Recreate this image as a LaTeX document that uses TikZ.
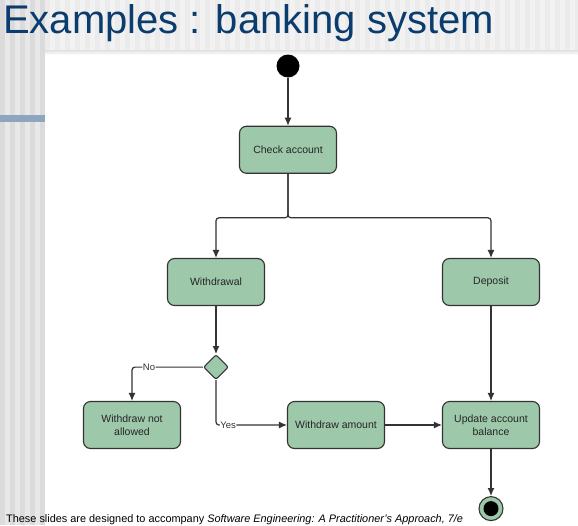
\documentclass[tikz,border=0pt]{standalone}
\usepackage{fontspec}
\setmainfont{Liberation Sans}
\usetikzlibrary{positioning,shapes.geometric,arrows.meta}
\definecolor{actgreen}{HTML}{9DC8AA}
\definecolor{linegray}{HTML}{333333}
\definecolor{titleblue}{HTML}{0B3C6E}
\definecolor{barblue}{HTML}{8DA5BE}
\begin{document}
\begin{tikzpicture}[
    x=1pt, y=1pt,
    act/.style={draw=linegray, line width=1.1pt, fill=actgreen, rounded corners=7pt,
        minimum width=97pt, minimum height=47pt, align=center, text=black!85,
        font=\fontsize{10.5}{12.5}\selectfont},
    decision/.style={diamond, draw=linegray, line width=1.1pt, fill=actgreen,
        rounded corners=2pt, minimum width=25pt, minimum height=25pt, inner sep=0pt},
    initial/.style={circle, fill=black, minimum size=23pt, inner sep=0pt},
    final/.style={circle, draw=linegray, line width=1.1pt, fill=actgreen,
        minimum size=24pt, inner sep=0pt,
        path picture={\fill[black] (path picture bounding box.center) circle (7.5pt);}},
    flow/.style={draw=linegray, line width=1.2pt, -{Latex[length=8pt,width=7pt]}},
    guard/.style={fill=white, inner sep=0.5pt, font=\fontsize{9.5}{10}\selectfont, text=linegray}]

    % slide background
    \useasboundingbox (0,0) rectangle (578,-525);
    \fill[white] (0,0) rectangle (578,-525);
    \fill[black!8] (45,0) rectangle (578,-50);
    \foreach \x in {50,60,...,570}
        \fill[black!5] (\x,0) rectangle ++(5,-50);
    \shade[top color=black!12, bottom color=white] (45,-50) rectangle (578,-55);
    \fill[black!9] (0,0) rectangle (45,-525);
    \foreach \x in {0,10,...,40}
        \fill[black!14] (\x,0) rectangle ++(5,-525);
    \fill[barblue] (0,-115) rectangle (45,-122);
    \node[anchor=base west, text=titleblue, font=\fontsize{40}{48}\selectfont,
        inner sep=0pt] (title) at (3,-33) {Examples : banking system};
    \node[anchor=base west, inner sep=0pt, font=\fontsize{10.9}{12}\selectfont]
        (footer) at (6,-522.3)
        {These slides are designed to accompany \textit{Software Engineering: A Practitioner's Approach, 7/e}};

    % activities
    \node[initial] (start) at (288,-66) {};
    \node[act, below=48pt of start] (check) {Check account};
    \node[act] (withdrawal) at (216,-282) {Withdrawal};
    \node[act] (deposit) at (491,-282) {Deposit};
    \node[decision, below=48pt of withdrawal] (choice) {};
    \node[act] (notallowed) at (132,-425) {Withdraw not\\allowed};
    \node[act] (amount) at (336,-425) {Withdraw amount};
    \node[act] (update) at (491,-425) {Update account\\balance};
    \node[final, below=47pt of update] (stop) {};

    % flows
    \draw[flow] (start) -- (check);
    \draw[flow, rounded corners=3pt] (check.south) -- ++(0,-44) -| (withdrawal.north);
    \draw[flow, rounded corners=3pt] (check.south) -- ++(0,-44) -| (deposit.north);
    \draw[flow] (withdrawal) -- (choice);
    \draw[flow, rounded corners=3pt] (choice.west) -| node[guard, pos=0.38] {No} (notallowed.north);
    \draw[flow, rounded corners=3pt] (choice.south) |- node[guard, pos=0.585] {Yes} (amount.west);
    \draw[flow] (amount) -- (update);
    \draw[flow] (deposit) -- (update);
    \draw[flow] (update) -- (stop);
\end{tikzpicture}
\end{document}
